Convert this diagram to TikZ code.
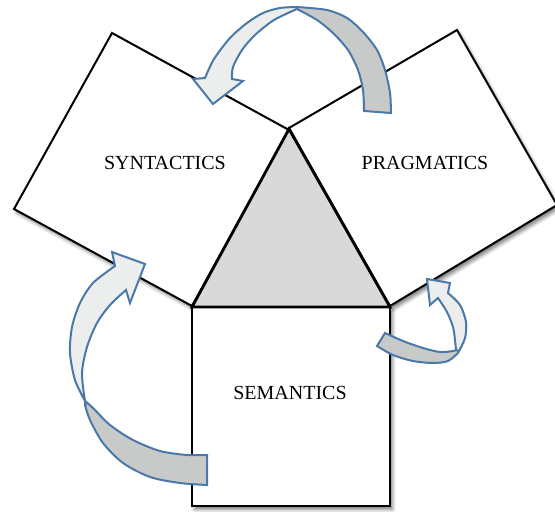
\documentclass[tikz,border=0pt]{standalone}
\usepackage{fontspec}
\setmainfont{Liberation Serif}
\usetikzlibrary{shadows.blur}
\definecolor{arrowblue}{HTML}{4A78A8}
\definecolor{lightfill}{HTML}{ECEEEE}
\definecolor{darkfill}{HTML}{C8CACA}
\definecolor{trifill}{HTML}{D9D9D9}
\tikzset{
  sq/.style={draw=black, fill=white, line width=2pt, line join=miter,
    blur shadow={shadow xshift=2.5pt, shadow yshift=-3.5pt, shadow blur radius=3.5pt, shadow opacity=50}},
  tri/.style={draw=black, fill=trifill, line width=2.8pt, line join=miter},
  front/.style={draw=arrowblue, fill=lightfill, line width=2pt, line join=miter},
  back/.style={draw=arrowblue, fill=darkfill, line width=2pt, line join=miter},
  lbl/.style={font=\fontsize{20}{22}\selectfont, inner sep=0pt}
}
\begin{document}
\begin{tikzpicture}[x=1pt,y=-1pt]
\useasboundingbox (0,0) rectangle (555,512);
\clip (0,0) rectangle (555,512);
% squares
\draw[sq] (112,33) -- (289,130) -- (192,306) -- (14,209) -- cycle;
\draw[sq] (289,128) -- (457,30) -- (557,205) -- (390,306) -- cycle;
\draw[sq] (192,307) -- (390,307) -- (390,506) -- (192,506) -- cycle;
% triangle
\draw[tri] (289,129) -- (192,307) -- (390,307) -- cycle;
% labels
\node[lbl] (syn) at (165,163) {SYNTACTICS};
\node[lbl] (prag) at (425,163) {PRAGMATICS};
\node[lbl] (sem) at (290,393) {SEMANTICS};
% top arrow
\draw[back] plot[smooth] coordinates {(364,111) (363,90) (358,70) (348,50) (333,33) (317,20) (297,9)}
  -- plot[smooth] coordinates {(297,7) (327,10) (347,18) (363,32) (377,50) (385,70) (390,93) (391,113)} -- cycle;
\draw[front] plot[smooth] coordinates {(297,7) (280,8) (263,13) (247,23) (230,38) (214,59) (205,78)}
  -- (193,79) -- (213,104) -- (243,81)
  -- plot[smooth] coordinates {(232,79) (233,67) (242,50) (255,35) (274,20) (297,9)} -- cycle;
% left arrow
\draw[back] plot[smooth] coordinates {(207,455) (187,455) (160,451) (133,440) (110,425) (93,408) (85,401)}
  -- plot[smooth] coordinates {(85,405) (90,420) (103,443) (123,463) (150,477) (180,483) (207,485)} -- cycle;
\draw[front] (112,252) -- (145,264) -- (130,303)
  -- plot[smooth] coordinates {(126,290) (110,305) (97,323) (87,347) (82,373) (85,401)}
  -- plot[smooth] coordinates {(85,401) (75,380) (70,353) (72,327) (80,303) (93,283) (115,266)} -- cycle;
% right arrow
\draw[back] plot[smooth] coordinates {(385,333) (403,341) (423,348) (440,352) (453,351) (460,349)}
  -- plot[smooth] coordinates {(458,353) (448,361) (433,363) (413,361) (393,355) (377,346)} -- cycle;
\draw[front] (450,283) -- (427,279) -- (430,305)
  -- plot[smooth] coordinates {(438,298) (447,312) (453,327) (455,340) (456,350)}
  -- plot[smooth] coordinates {(459,351) (465,338) (466,322) (460,305) (448,293)} -- cycle;
\end{tikzpicture}
\end{document}
